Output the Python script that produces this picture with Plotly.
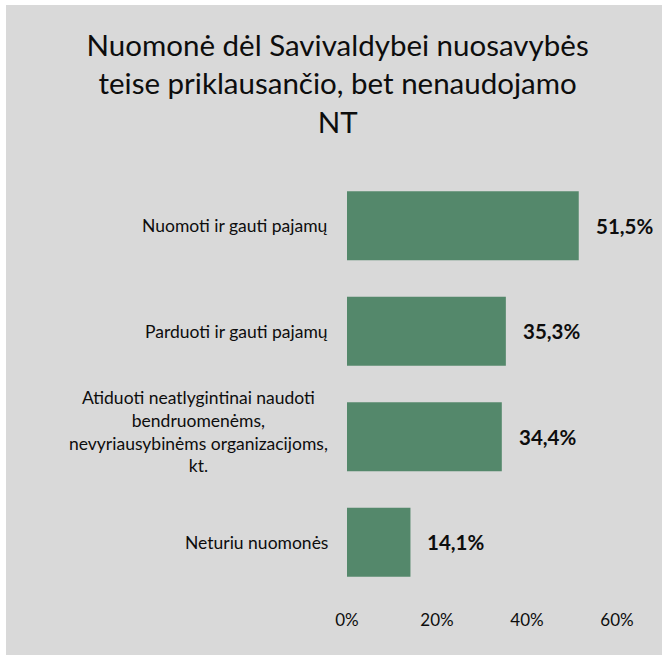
import plotly.graph_objects as go

categories = [
    "Nuomoti ir gauti pajamų",
    "Parduoti ir gauti pajamų",
    "Atiduoti neatlygintinai naudoti<br>bendruomenėms,<br>nevyriausybinėms organizacijoms,<br>kt.",
    "Neturiu nuomonės",
]
values = [51.5, 35.3, 34.4, 14.1]
value_labels = ["51,5%", "35,3%", "34,4%", "14,1%"]
tick_vals = [0, 20, 40, 60]
tick_text = ["0%", "20%", "40%", "60%"]
title_text = "Nuomonė dėl Savivaldybei nuosavybės<br>teise priklausančio, bet nenaudojamo<br>NT"

W, H = 662, 655
L, R, T, B = 347, 45, 173, 60
pw, ph = W - L - R, H - T - B

FONT = "Lato"
TXT = "#0D0D0D"
BAR = "#54886B"
BG = "#D9D9D9"

fig = go.Figure()
fig.add_trace(go.Bar(
    y=categories, x=values, orientation="h",
    marker=dict(color=BAR, line=dict(width=0)),
    hoverinfo="skip",
))

annotations = []
for c, v, lab in zip(categories, values, value_labels):
    annotations.append(dict(x=v, y=c, xref="x", yref="y", text="<b>" + lab + "</b>",
                            showarrow=False, xanchor="left", xshift=15,
                            font=dict(family=FONT, size=20.5, color=TXT)))
    annotations.append(dict(x=(330 - L) / pw, y=c, xref="paper", yref="y", text=c,
                            showarrow=False, xanchor="right", align="center",
                            yshift=5 if "<br>" in c else 0,
                            font=dict(family=FONT, size=17.5, color=TXT)))

fig.update_layout(
    width=W, height=H,
    margin=dict(l=L, r=R, t=T, b=B, pad=0),
    paper_bgcolor="white", plot_bgcolor=BG,
    showlegend=False,
    bargap=0.345,
    title=dict(text=title_text, x=0.51, xanchor="center", y=1 - 56 / H, yanchor="top",
               font=dict(family=FONT, size=29.5, color=TXT)),
    xaxis=dict(range=[0, 60], tickvals=tick_vals, ticktext=tick_text, showgrid=False,
               zeroline=False, showline=False, ticks="", fixedrange=True,
               tickfont=dict(family=FONT, size=17, color=TXT), ticklabelstandoff=13),
    yaxis=dict(autorange="reversed", showticklabels=False, showgrid=False, zeroline=False,
               showline=False, ticks="", fixedrange=True),
    annotations=annotations,
    shapes=[dict(type="rect", xref="paper", yref="paper", layer="below",
                 x0=(6 - L) / pw, x1=(W - L) / pw, y0=-(H - (T + ph)) / ph, y1=(T + ph - 5) / ph,
                 fillcolor=BG, line=dict(width=0))],
)

fig.write_html("out.html", config={"displayModeBar": False},
               post_script="document.body.style.margin='0px';document.body.style.overflow='hidden';")
